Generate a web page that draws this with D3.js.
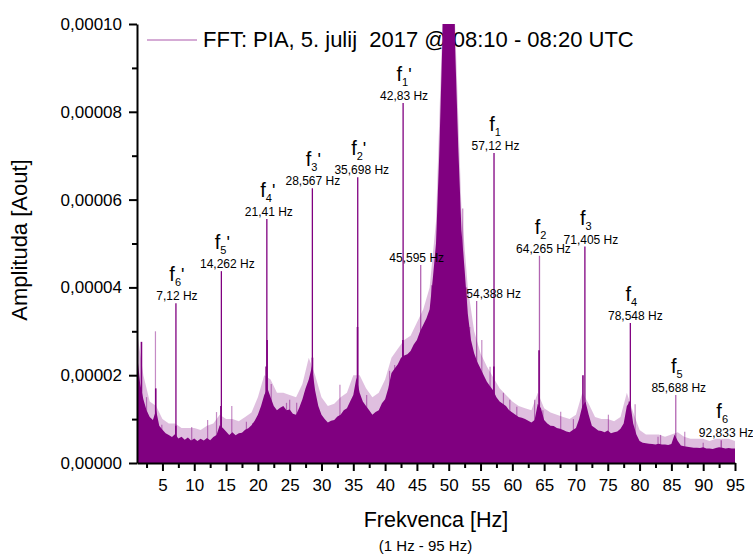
<!DOCTYPE html>
<html><head><meta charset="utf-8">
<script src="https://cdn.jsdelivr.net/npm/d3@7"></script>
<style>
body{margin:0;background:#fff}
svg text{font-family:"Liberation Sans",Arial,Helvetica,sans-serif;fill:#000}
</style></head><body>
<svg id="c" width="753" height="554"></svg>
<script>
// ---------------- DATA (amplitudes in 1e-6 Aout) ----------------
const xTicks = [5,10,15,20,25,30,35,40,45,50,55,60,65,70,75,80,85,90,95];
const xMinorTicks = [2.5,7.5,12.5,17.5,22.5,27.5,32.5,37.5,42.5,47.5,52.5,57.5,62.5,67.5,72.5,77.5,82.5,87.5,92.5];
const yTicks = [0,20,40,60,80,100];
const yMinorTicks = [10,30,50,70,90];
const legendLabel = "FFT: PIA, 5. julij  2017 @ 08:10 - 08:20 UTC";
const xTitle = "Frekvenca [Hz]";
const xSubTitle = "(1 Hz - 95 Hz)";
const yTitle = "Amplituda [Aout]";

// upper edge of the dense (solid) noise band [frequency Hz, amplitude]
const noiseBand = [
 [1,25],[1.5,18],[2,14.5],[2.5,12],[3,10.5],[3.5,9.8],[4,12],[4.5,8.5],[5,7.6],[5.5,6.8],
 [6,6.4],[6.5,5.9],[7,6.6],[7.5,5.6],[8,6.0],[8.5,5.3],[9,5.8],[9.5,5.1],[10,5.6],[10.5,5.0],
 [11,5.5],[11.5,5.1],[12,5.7],[12.5,5.2],[13,5.9],[13.5,6.4],[14,8.6],[14.5,8.0],[15,7.2],[15.5,6.4],
 [16,7.0],[16.5,6.3],[17,6.8],[17.5,6.9],[18,7.6],[18.5,7.9],[19,8.6],[19.5,9.6],[20,11.0],[20.5,13.0],
 [21,15.5],[21.5,17.0],[22,15.0],[22.5,13.0],[23,12.0],[23.5,12.6],[24,13.0],[24.5,12.0],[25,12.2],[25.5,11.2],
 [26,11.0],[26.5,12.6],[27,14.5],[27.5,17.0],[28,19.0],[28.5,22.0],[29,16.5],[29.5,13.0],[30,11.0],[30.5,10.0],
 [31,9.2],[31.5,9.6],[32,9.8],[32.5,10.6],[33,11.0],[33.5,12.0],[34,12.5],[34.5,14.0],[35,15.5],[35.5,19.5],
 [36,16.0],[36.5,14.0],[37,13.0],[37.5,12.0],[38,11.0],[38.5,11.6],[39,12.0],[39.5,13.6],[40,14.5],[40.5,17.0],
 [41,20.5],[41.5,21.5],[42,22.5],[42.5,24.0],[43,24.5],[43.5,24.8],[44,25.5],[44.5,27.0],[45,28.0],[45.5,30.0],
 [46,31.5],[46.5,33.0],[47,35.0],[47.5,42.0],[48,50.0],[48.5,70.0],[49,96.0],[49.5,150],[50,150],[50.5,150],
 [51,95.0],[51.5,72.0],[52,53.0],[52.5,44.0],[53,34.0],[53.5,28.0],[54,25.0],[54.5,23.0],[55,21.5],[55.5,20.0],
 [56,18.5],[56.5,17.5],[57,16.5],[57.5,15.0],[58,14.0],[58.5,13.5],[59,13.0],[59.5,12.0],[60,11.5],[60.5,11.0],
 [61,10.5],[61.5,10.3],[62,10.0],[62.5,9.6],[63,9.2],[63.5,9.8],[64,13.5],[64.5,12.5],[65,9.8],[65.5,9.0],
 [66,8.5],[66.5,8.4],[67,8.0],[67.5,7.8],[68,7.5],[68.5,7.2],[69,7.0],[69.5,7.5],[70,8.0],[70.5,10.0],
 [71,13.0],[71.5,14.0],[72,11.0],[72.5,8.5],[73,8.0],[73.5,7.4],[74,7.3],[74.5,7.0],[75,7.4],[75.5,6.8],
 [76,7.0],[76.5,7.2],[77,7.8],[77.5,9.0],[78,13.0],[78.5,14.0],[79,9.0],[79.5,6.5],[80,5.0],[80.5,4.6],
 [81,4.5],[81.5,4.4],[82,4.3],[82.5,4.2],[83,4.4],[83.5,4.2],[84,4.2],[84.5,4.1],[85,4.3],[85.5,6.5],
 [86,5.0],[86.5,4.0],[87,3.8],[87.5,3.7],[88,3.6],[88.5,3.5],[89,3.5],[89.5,3.4],[90,3.6],[90.5,3.3],
 [91,3.3],[91.5,3.2],[92,3.4],[92.5,3.6],[93,3.5],[93.5,3.3],[94,3.4],[94.5,3.3],[95,3.3]
];

// upper reach of the sparse thin spikes above the solid band [Hz, amplitude]
const hairBand = [
 [1,30],[2,20],[3,14],[4,13],[5,10],[6,9],[7,9],[8,8],[9,8],[10,8],[11,7.5],[12,8.5],[13,9],[14,11],[15,10],
 [16,10],[17,9.5],[18,10.5],[19,11.5],[20,15],[21,20],[22,19],[23,16],[24,16],[25,15.5],[26,15],[27,18],[28,24],
 [29,20],[30,15],[31,13],[32,13.5],[33,15],[34,16],[35,20],[36,20],[37,17],[38,15],[39,16],[40,19],[41,24],
 [42,26],[43,28],[44,29],[45,32],[46,35],[47,40],[48,55],[49,100],[50,150],[51,100],[52,58],[53,40],[54,30],
 [55,25],[56,22],[57,19.5],[58,17],[59,15.5],[60,14],[61,13],[62,12.5],[63,12],[64,16],[65,12.5],[66,11.5],[67,11],
 [68,10.5],[69,10],[70,11],[71,16],[72,13.5],[73,10.5],[74,10],[75,10],[76,9.5],[77,10.5],[78,16],[79,11.5],[80,7.5],
 [81,6.5],[82,6.5],[83,6.5],[84,6],[85,6.5],[86,7],[87,6],[88,5.5],[89,5.5],[90,5.5],[91,5],[92,5.5],[93,5.5],
 [94,5.5],[95,5]
];

// labelled harmonic peaks
const peakFreq = [7.12,14.262,21.41,28.567,35.698,42.83,45.595,54.388,57.12,64.265,71.405,78.548,85.688,92.833];
const peakAmp  = [36.4,43.7,55.6,62.6,65.1,82.0,45.1,36.9,70.6,47.2,49.3,31.9,15.5,5.2];
const peakSym  = ["6","5","4","3","2","1",null,null,"1","2","3","4","5","6"];
const peakPrime= [true,true,true,true,true,true,false,false,false,false,false,false,false,false];
const peakText = ["7,12 Hz","14,262 Hz","21,41 Hz","28,567 Hz","35,698 Hz","42,83 Hz","45,595 Hz","54,388 Hz",
                  "57,12 Hz","64,265 Hz","71,405 Hz","78,548 Hz","85,688 Hz","92,833 Hz"];

// darker spikes at the base of peaks [Hz, amplitude]
const darkSpikes = [[1.70,27.6],[3.95,17],[7.1,8.5],[14.2,13],[21.3,22],[21.45,28],[28.58,24],[35.66,31],
  [42.8,28],[45.7,27.6],[57.1,22],[64.2,25.7],[71.1,20],[78.4,14]];
// faint isolated spikes [Hz, amplitude]
const faintSpikes = [[3.9,30],[2.5,15],[4.9,8.7],[9.6,8.2],[12.1,9.8],[13.5,11.6],[15.9,13],[18.2,9.4],
  [19.2,9.1],[22.1,18],[24.5,13.7],[25.0,14.4],[26.1,13.7],[27.4,16],[32.9,17.8],[37.1,15.5],[40.7,21],
  [41.5,22.3],[44.9,22.8],[47.3,40.5],[52.2,58],[52.8,40],[53.3,31],[55.2,28],[56.5,21.9],[58.6,16],
  [59.6,14.4],[60.7,12.8],[63.5,14.4],[64.8,12],[67.6,11.7],[69.6,10],[75.1,11],[79.3,13.4],[82.9,6],
  [83.3,6.4],[87.1,7.1],[90.0,4.6]];

// ---------------- LAYOUT / STYLE ----------------
const purple = "#800080";
const svg = d3.select("#c");
const x = d3.scaleLinear().domain([1,95]).range([137,735]);
const y = d3.scaleLinear().domain([0,100]).range([463,24]);
const softLines = new Set([45.595,54.388,64.265,85.688,92.833]);
const hzShift = {"7,12 Hz":1,"14,262 Hz":6,"21,41 Hz":2,"28,567 Hz":0.5,"35,698 Hz":4,"42,83 Hz":1,
  "45,595 Hz":-4,"54,388 Hz":17,"57,12 Hz":1.5,"64,265 Hz":4,"71,405 Hz":6,"78,548 Hz":5,"85,688 Hz":3,"92,833 Hz":5};

// legend
svg.append("line").attr("x1",147).attr("x2",197).attr("y1",40).attr("y2",40)
  .attr("stroke",purple).attr("stroke-width",1).attr("opacity",0.65);
svg.append("text").attr("x",203).attr("y",47).attr("font-size",22)
  .style("white-space","pre").text(legendLabel);

// data
svg.append("clipPath").attr("id","clip").append("rect")
  .attr("x",x(1)).attr("y",y(100)).attr("width",x(95)-x(1)).attr("height",y(0)-y(100));
const plot = svg.append("g").attr("clip-path","url(#clip)");
const area = d3.area().x(d=>x(d[0])).y0(y(0)).y1(d=>y(d[1]));
plot.append("path").datum(hairBand).attr("d", area).attr("fill",purple).attr("opacity",0.25);
plot.append("path").datum(noiseBand).attr("d", area).attr("fill",purple);
plot.selectAll("line.faint").data(faintSpikes).join("line").attr("class","faint")
  .attr("x1",d=>x(d[0])).attr("x2",d=>x(d[0])).attr("y1",y(0)).attr("y2",d=>y(d[1]))
  .attr("stroke",purple).attr("stroke-width",1.2).attr("opacity",0.45);
plot.selectAll("line.dark").data(darkSpikes).join("line").attr("class","dark")
  .attr("x1",d=>x(d[0])).attr("x2",d=>x(d[0])).attr("y1",y(0)).attr("y2",d=>y(d[1]))
  .attr("stroke",purple).attr("stroke-width",1.6);
plot.selectAll("line.peak").data(peakFreq).join("line").attr("class","peak")
  .attr("x1",d=>x(d)).attr("x2",d=>x(d)).attr("y1",y(0)).attr("y2",(d,i)=>y(peakAmp[i]))
  .attr("stroke",purple).attr("stroke-width",1.3)
  .attr("opacity",d=>softLines.has(d)?0.6:1);

// axes
const fmtY = d => (d/1e6).toFixed(5).replace(".",",");
const gx = svg.append("g").attr("transform",`translate(0,${y(0)})`)
  .call(d3.axisBottom(x).tickValues(xTicks).tickSize(8).tickPadding(8).tickSizeOuter(0).tickFormat(d3.format("d")));
const gxm = svg.append("g").attr("transform",`translate(0,${y(0)})`)
  .call(d3.axisBottom(x).tickValues(xMinorTicks).tickSize(5).tickSizeOuter(0).tickFormat(""));
gxm.select(".domain").remove();
const gy = svg.append("g").attr("transform",`translate(${x(1)},0)`)
  .call(d3.axisLeft(y).tickValues(yTicks).tickSize(8).tickPadding(7).tickSizeOuter(0).tickFormat(fmtY));
const gym = svg.append("g").attr("transform",`translate(${x(1)},0)`)
  .call(d3.axisLeft(y).tickValues(yMinorTicks).tickSize(5).tickSizeOuter(0).tickFormat(""));
gym.select(".domain").remove();
[gx,gxm,gy,gym].forEach(g=>{
  g.selectAll("path,line").attr("stroke","#000").attr("stroke-width",2);
  g.selectAll("text").attr("font-size",17).attr("font-family",null).attr("fill","#000");
});

// titles
svg.append("text").attr("transform","translate(27,240) rotate(-90)").attr("text-anchor","middle")
  .attr("font-size",22).text(yTitle);
svg.append("text").attr("x",436).attr("y",527).attr("text-anchor","middle").attr("font-size",21.5).text(xTitle);
svg.append("text").attr("x",425.5).attr("y",551).attr("text-anchor","middle").attr("font-size",15).text(xSubTitle);

// peak labels
const lab = svg.append("g");
peakFreq.forEach((f,i)=>{
  const px = x(f), py = y(peakAmp[i]);
  lab.append("text").attr("x",px+hzShift[peakText[i]]).attr("y",py-3)
    .attr("text-anchor","middle").attr("font-size",12).text(peakText[i]);
  if (peakSym[i]) {
    const t = lab.append("text").attr("x",px+1).attr("y",py-22).attr("text-anchor","middle").attr("font-size",20);
    t.append("tspan").text("f");
    t.append("tspan").attr("font-size",11).attr("dy",5).text(peakSym[i]);
    if (peakPrime[i]) t.append("tspan").attr("font-size",18).attr("dy",-5).text("'");
  }
});
</script>
</body></html>
